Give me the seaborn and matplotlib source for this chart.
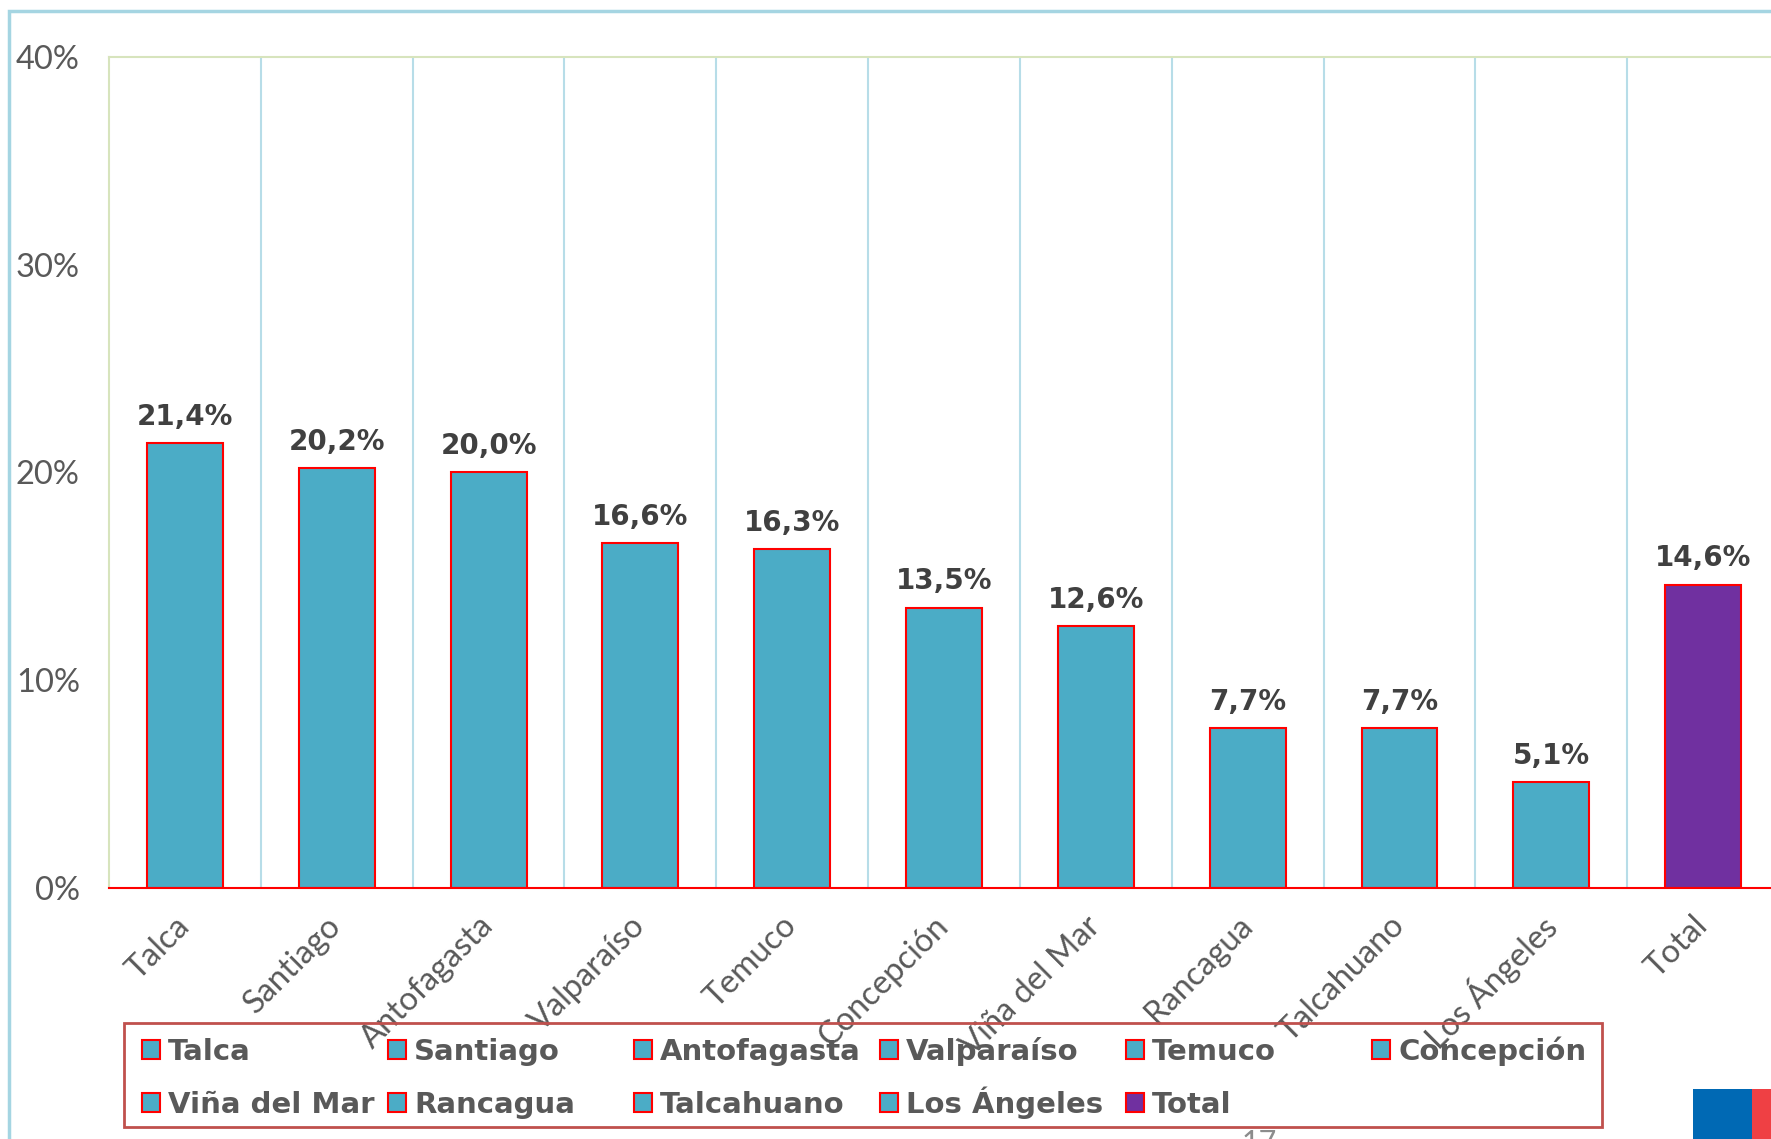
import numpy as np
import pandas as pd
import seaborn as sns
import matplotlib.pyplot as plt
from matplotlib.patches import Rectangle, Patch

# data
cities = ['Talca', 'Santiago', 'Antofagasta', 'Valparaíso', 'Temuco', 'Concepción',
          'Viña del Mar', 'Rancagua', 'Talcahuano', 'Los Ángeles', 'Total']
values = [21.4, 20.2, 20.0, 16.6, 16.3, 13.5, 12.6, 7.7, 7.7, 5.1, 14.6]
bar_colors = ['#4BACC6'] * 10 + ['#7030A0']
y_ticks = [0, 10, 20, 30, 40]

sns.set_style('white')
plt.rcParams['font.family'] = ['Lato', 'DejaVu Sans']

W, H = 1771, 1139
fig = plt.figure(figsize=(W / 100, H / 100), dpi=100)
ax = fig.add_axes([109 / W, 1 - 888 / H, (1779 - 109) / W, (888 - 57) / H])

df = pd.DataFrame({'ciudad': cities, 'pct': values})
sns.barplot(data=df, x='ciudad', y='pct', hue='ciudad', palette=bar_colors,
            width=0.5, edgecolor='red', linewidth=1.5, saturation=1,
            legend=False, ax=ax)

# data labels
for cont, v in zip(ax.containers, values):
    ax.bar_label(cont, labels=[f'{v:.1f}%'.replace('.', ',')], padding=9,
                 fontsize=20, fontweight='bold', color='#404040',
                 family='DejaVu Sans')

ax.set_ylim(0, 40)
ax.set_xlim(-0.5, len(cities) - 0.5)
ax.set_yticks(y_ticks)
ax.set_yticklabels([f'{t}%' for t in y_ticks], fontsize=23.5, color='#595959')
ax.set_xticks(range(len(cities)))
ax.set_xticklabels(cities, fontsize=23.5, color='#595959', rotation=45,
                   ha='right', va='center', rotation_mode='anchor')
ax.tick_params(axis='y', length=0, pad=21)
ax.tick_params(axis='x', length=0, pad=24)
ax.set_xlabel('')
ax.set_ylabel('')

# vertical separators between categories
ax.set_xticks(np.arange(0.5, len(cities) - 0.5, 1), minor=True)
ax.tick_params(axis='x', which='minor', length=0)
ax.grid(True, axis='x', which='minor', color='#B7DDE8', linewidth=1.5)
ax.grid(False, axis='x', which='major')
ax.grid(False, axis='y')
ax.set_axisbelow(True)

ax.spines['left'].set_color('#D7E4BD')
ax.spines['top'].set_color('#D7E4BD')
ax.spines['bottom'].set_color('red')
ax.spines['right'].set_visible(False)
for s in ['left', 'top', 'bottom']:
    ax.spines[s].set_linewidth(1.5)

# legend: 6 columns x 2 rows on a fixed grid, one entry per legend so rows line up
col_x = 142
col_step = 246
row_bottom = [1066, 1119]
for i, (name, col) in enumerate(zip(cities, bar_colors)):
    r, c = divmod(i, 6)
    h = Patch(facecolor=col, edgecolor='red', linewidth=1.5)
    fig.legend([h], [name], loc='lower left',
               bbox_to_anchor=((col_x + c * col_step) / W, 1 - row_bottom[r] / H),
               frameon=False, borderpad=0, borderaxespad=0,
               handlelength=0.6, handleheight=0.6, handletextpad=0.3,
               prop=dict(family='DejaVu Sans', weight='bold', size=21),
               labelcolor='#595959')
fig.add_artist(Rectangle((124 / W, 1 - 1127 / H), (1602 - 124) / W, 104 / H,
                         transform=fig.transFigure, fill=False,
                         edgecolor='#C0504D', linewidth=2))

# slide frame, page number, logo
fig.add_artist(Rectangle((9 / W, -0.1), 1.2, 1.1 - 11 / H, transform=fig.transFigure,
                         fill=False, edgecolor='#A5D5E2', linewidth=2.5, zorder=0))
fig.text(1259 / W, 1 - 1129 / H, '17', fontsize=22, color='#8C8C8C',
         ha='center', va='top')
fig.add_artist(Rectangle((1693 / W, 0), 59 / W, 50 / H, transform=fig.transFigure,
                         facecolor='#0069B4', edgecolor='none', zorder=5))
fig.add_artist(Rectangle((1752 / W, 0), 19 / W, 50 / H, transform=fig.transFigure,
                         facecolor='#EF4044', edgecolor='none', zorder=5))

fig.savefig('out.png', dpi=100)
